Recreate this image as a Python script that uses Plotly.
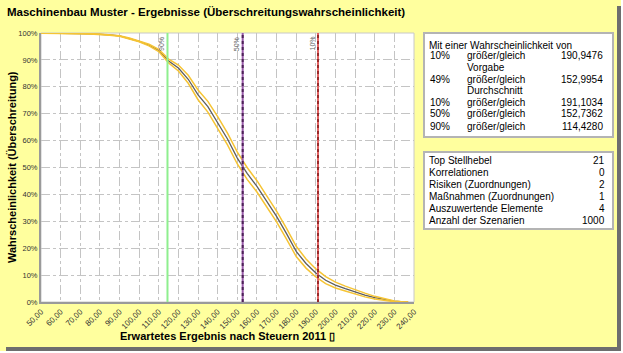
import plotly.graph_objects as go

# ---------------- data ----------------
x_vals = [50, 55, 60, 65, 70, 75, 80, 85, 90, 95, 100, 105, 110, 115, 120, 125, 130, 135,
          140, 145, 150, 155, 160, 165, 170, 175, 180, 185, 190, 195, 200, 205, 210, 215,
          220, 225, 230, 235, 237]
p_mid = [100, 100, 100, 99.9, 99.8, 99.7, 99.6, 99.3, 98.9, 98.0, 96.9, 95.5, 93.5, 89.6,
         87.0, 82.8, 77.0, 72.6, 66.8, 60.6, 53.5, 47.8, 43.0, 37.5, 31.8, 25.5, 18.8, 14.3,
         10.8, 8.1, 6.3, 5.0, 3.7, 2.6, 1.6, 0.9, 0.3, 0.0, 0.0]
p_upper = [100, 100, 100, 99.95, 99.85, 99.75, 99.65, 99.4, 99.0, 98.15, 97.1, 95.8, 93.9, 90.3,
           88.1, 84.3, 78.8, 74.6, 68.9, 62.8, 55.7, 50.0, 45.1, 39.6, 33.8, 27.5, 20.7, 16.0,
           12.3, 9.4, 7.4, 5.9, 4.5, 3.3, 2.1, 1.2, 0.4, 0.0, 0.0]
p_lower = [99.95, 99.95, 99.95, 99.85, 99.75, 99.65, 99.55, 99.2, 98.8, 97.85, 96.7, 95.2, 93.1, 88.9,
           85.9, 81.3, 75.2, 70.6, 64.7, 58.4, 51.3, 45.6, 40.9, 35.4, 29.8, 23.5, 16.9, 12.6,
           9.3, 6.8, 5.2, 4.1, 2.9, 1.9, 1.1, 0.6, 0.1, 0.0, 0.0]

marker_vals = [114.4280, 152.7362, 191.1034]
marker_labels = ["90%", "50%", "10%"]

x_ticks = [50, 60, 70, 80, 90, 100, 110, 120, 130, 140, 150, 160, 170, 180, 190, 200, 210, 220, 230, 240]
x_ticktext = ["50,00", "60,00", "70,00", "80,00", "90,00", "100,00", "110,00", "120,00", "130,00",
              "140,00", "150,00", "160,00", "170,00", "180,00", "190,00", "200,00", "210,00",
              "220,00", "230,00", "240,00"]
y_ticks = [0, 10, 20, 30, 40, 50, 60, 70, 80, 90, 100]
y_ticktext = ["0%", "10%", "20%", "30%", "40%", "50%", "60%", "70%", "80%", "90%", "100%"]

title_text = "Maschinenbau Muster - Ergebnisse (Überschreitungswahrscheinlichkeit)"
x_title = "Erwartetes Ergebnis nach Steuern 2011 ▯"
y_title = "Wahrscheinlichkeit (Überschreitung)"

box1_header = "Mit einer Wahrscheinlichkeit von"
box1_rows = [("10%", "größer/gleich", "190,9476"),
             ("", "Vorgabe", ""),
             ("49%", "größer/gleich", "152,9954"),
             ("", "Durchschnitt", ""),
             ("10%", "größer/gleich", "191,1034"),
             ("50%", "größer/gleich", "152,7362"),
             ("90%", "größer/gleich", "114,4280")]
box2_rows = [("Top Stellhebel", "21"),
             ("Korrelationen", "0"),
             ("Risiken (Zuordnungen)", "2"),
             ("Maßnahmen (Zuordnungen)", "1"),
             ("Auszuwertende Elemente", "4"),
             ("Anzahl der Szenarien", "1000")]

# ---------------- layout helpers ----------------
W, H = 623, 353
L, R, T, B = 41, 414, 33, 302
FONT = "Liberation Sans, Arial, sans-serif"
BG = "#FFFF9E"


def X(px):
    return (px - L) / (R - L)


def Y(py):
    return (B - py) / (B - T)


fig = go.Figure()

fig.add_trace(go.Scatter(x=x_vals, y=p_mid, mode="lines",
                         line=dict(color="#5E5E5E", width=1.3), hoverinfo="skip"))
fig.add_trace(go.Scatter(x=x_vals, y=p_upper, mode="lines",
                         line=dict(color="#F6C433", width=1.5), hoverinfo="skip"))
fig.add_trace(go.Scatter(x=x_vals, y=p_lower, mode="lines",
                         line=dict(color="#F6C433", width=1.5), hoverinfo="skip"))

shapes = []
# plot frame
shapes.append(dict(type="rect", xref="paper", yref="paper", x0=0, x1=1, y0=0, y1=1,
                   line=dict(color="#C8C8C8", width=1), layer="below"))
# vertical percentile lines
line_styles = [("#8FEF8F", None, 2), ("#9A5AAA", "#4E2258", 2), ("#E06262", "#9A2A2A", 2)]
for v, (c1, c2, w) in zip(marker_vals, line_styles):
    shapes.append(dict(type="line", xref="x", yref="paper", x0=v, x1=v, y0=0, y1=1,
                       line=dict(color=c1, width=w)))
    if c2:
        shapes.append(dict(type="line", xref="x", yref="paper", x0=v, x1=v, y0=0, y1=1,
                           line=dict(color=c2, width=w, dash="dot")))

# info boxes
shapes.append(dict(type="rect", xref="paper", yref="paper", x0=X(424), x1=X(613), y0=Y(137), y1=Y(33),
                   fillcolor="white", line=dict(color="#B4B4B4", width=2)))
shapes.append(dict(type="rect", xref="paper", yref="paper", x0=X(424), x1=X(613), y0=Y(229), y1=Y(152),
                   fillcolor="white", line=dict(color="#B4B4B4", width=2)))
# drop shadow of the picture frame
shapes.append(dict(type="rect", xref="paper", yref="paper", x0=X(621), x1=X(640), y0=Y(370), y1=Y(-10),
                   fillcolor="white", line=dict(width=0)))
shapes.append(dict(type="rect", xref="paper", yref="paper", x0=X(-10), x1=X(640), y0=Y(370), y1=Y(351),
                   fillcolor="white", line=dict(width=0)))
shapes.append(dict(type="rect", xref="paper", yref="paper", x0=X(617), x1=X(621), y0=Y(351), y1=Y(6),
                   fillcolor="#6E6E6E", line=dict(width=0)))
shapes.append(dict(type="rect", xref="paper", yref="paper", x0=X(6), x1=X(621), y0=Y(351), y1=Y(347),
                   fillcolor="#6E6E6E", line=dict(width=0)))

annotations = []
annotations.append(dict(text="<b>" + title_text + "</b>", xref="paper", yref="paper",
                        x=X(5), y=Y(12), xanchor="left", yanchor="middle", showarrow=False,
                        font=dict(family=FONT, size=11.5, color="black")))
annotations.append(dict(text="<b>" + y_title + "</b>", xref="paper", yref="paper",
                        x=X(12), y=Y(167), xanchor="center", yanchor="middle", showarrow=False,
                        textangle=-90, font=dict(family=FONT, size=11, color="black")))
annotations.append(dict(text="<b>" + x_title + "</b>", xref="paper", yref="paper",
                        x=X(227), y=Y(336), xanchor="center", yanchor="middle", showarrow=False,
                        font=dict(family=FONT, size=11, color="black")))
for v, lab in zip(marker_vals, marker_labels):
    annotations.append(dict(text=lab, xref="x", yref="paper", x=v, y=Y(35), xanchor="right",
                            yanchor="top", xshift=-1, showarrow=False, textangle=-90,
                            font=dict(family=FONT, size=7, color="#666666")))

fs = 10
annotations.append(dict(text=box1_header, xref="paper", yref="paper", x=X(427), y=Y(45),
                        xanchor="left", yanchor="middle", showarrow=False,
                        font=dict(family=FONT, size=fs, color="black")))
row_y1 = [55.5, 67, 79, 90.7, 102.3, 114, 126.2]
for (a, b, c), yy in zip(box1_rows, row_y1):
    if a:
        annotations.append(dict(text=a, xref="paper", yref="paper", x=X(428), y=Y(yy),
                                xanchor="left", yanchor="middle", showarrow=False,
                                font=dict(family=FONT, size=fs, color="black")))
    annotations.append(dict(text=b, xref="paper", yref="paper", x=X(465), y=Y(yy),
                            xanchor="left", yanchor="middle", showarrow=False,
                            font=dict(family=FONT, size=fs, color="black")))
    if c:
        annotations.append(dict(text=c, xref="paper", yref="paper", x=X(605), y=Y(yy),
                                xanchor="right", yanchor="middle", showarrow=False,
                                font=dict(family=FONT, size=fs, color="black")))
row_y2 = [160, 172, 184.5, 196.5, 208.3, 220]
for (a, c), yy in zip(box2_rows, row_y2):
    annotations.append(dict(text=a, xref="paper", yref="paper", x=X(427), y=Y(yy),
                            xanchor="left", yanchor="middle", showarrow=False,
                            font=dict(family=FONT, size=fs, color="black")))
    annotations.append(dict(text=c, xref="paper", yref="paper", x=X(607), y=Y(yy),
                            xanchor="right", yanchor="middle", showarrow=False,
                            font=dict(family=FONT, size=fs, color="black")))

fig.update_layout(
    width=W, height=H,
    margin=dict(l=L, r=W - R, t=T, b=H - B, pad=0),
    paper_bgcolor=BG, plot_bgcolor="white",
    showlegend=False,
    shapes=shapes, annotations=annotations,
    font=dict(family=FONT, color="#404040"),
)
fig.update_xaxes(range=[50, 240], tickvals=x_ticks, ticktext=x_ticktext, tickangle=-45,
                 tickfont=dict(family=FONT, size=8, color="#333333"),
                 showgrid=True, gridcolor="#C4C4C4", griddash="dashdot", gridwidth=1,
                 showline=True, linecolor="#9A9A9A", linewidth=2, zeroline=False,
                 ticks="", fixedrange=True)
fig.update_yaxes(range=[0, 100], tickvals=y_ticks, ticktext=y_ticktext,
                 tickfont=dict(family=FONT, size=7.5, color="#333333"),
                 showgrid=True, gridcolor="#C4C4C4", griddash="dashdot", gridwidth=1,
                 showline=True, linecolor="#9A9A9A", linewidth=2, zeroline=False,
                 ticks="", fixedrange=True)

fig.write_html("out.html", config={"displayModeBar": False})
